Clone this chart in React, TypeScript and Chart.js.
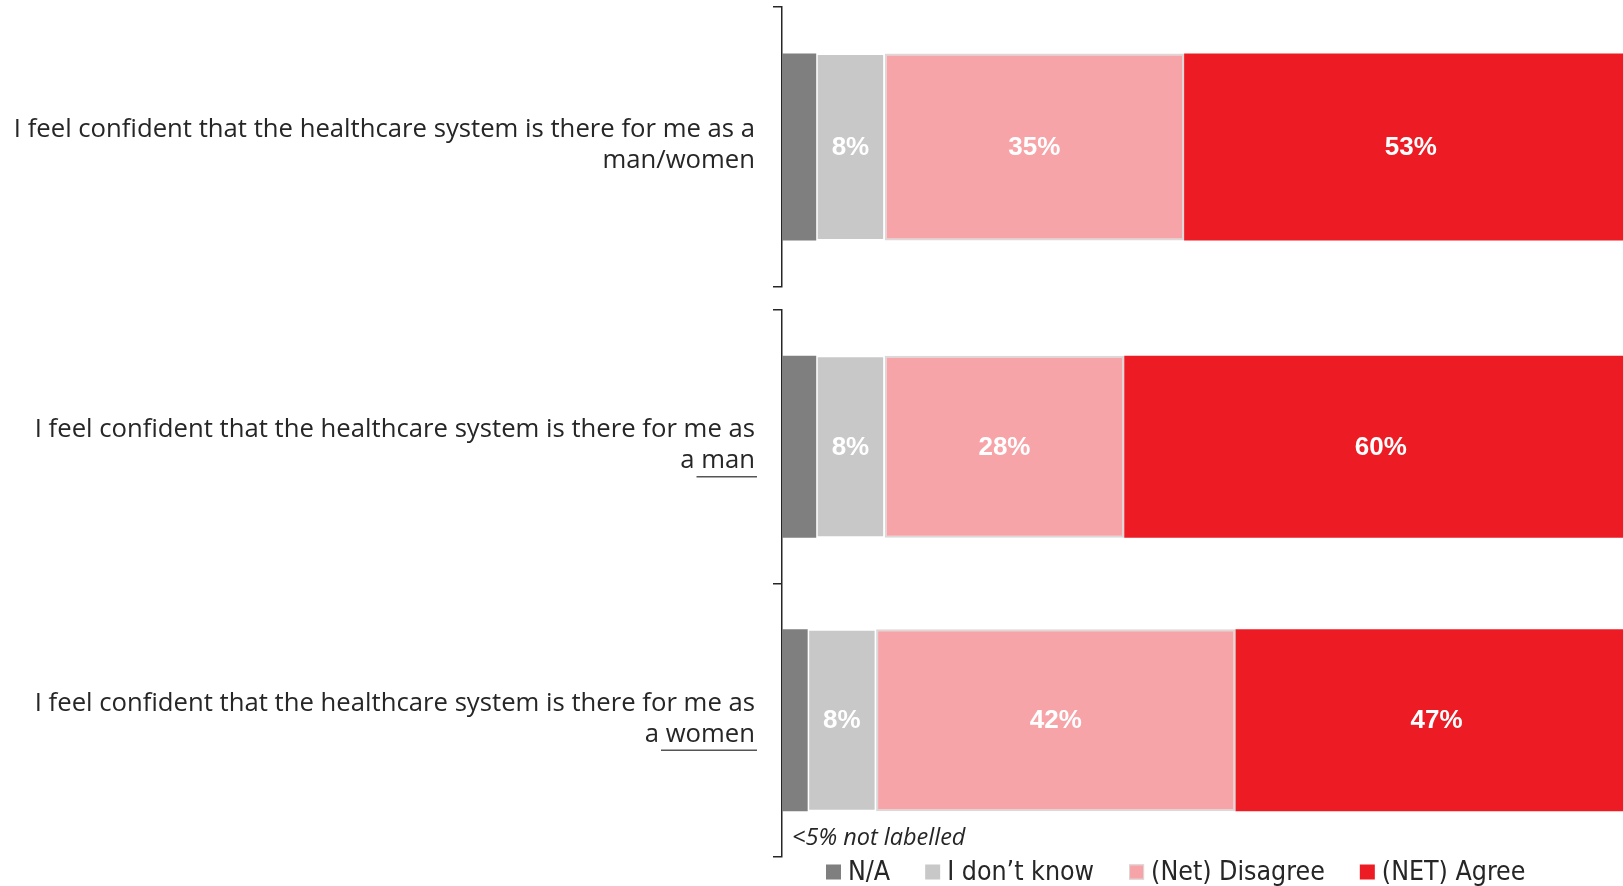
import React, { useEffect, useRef } from "react";
import { Chart, registerables } from "chart.js";
Chart.register(...registerables);

// ---------- data ----------
const categoryKeys = ["man/women", "man", "women"];
const categoryLine1 = [
  "I feel confident that the healthcare system is there for me as a",
  "I feel confident that the healthcare system is there for me as",
  "I feel confident that the healthcare system is there for me as",
];
const categoryLine2 = ["man/women", "a man", "a women"];
const underlinedPart = ["", " man", " women"];

const seriesNames = ["N/A", "I don’t know", "(Net) Disagree", "(NET) Agree"];
const naValues = [4, 4, 3];
const dontKnowValues = [8, 8, 8];
const disagreeValues = [35, 28, 42];
const agreeValues = [53, 60, 47];
const seriesValues = [naValues, dontKnowValues, disagreeValues, agreeValues];

const labelThreshold = 5;
const footnoteText = "<5% not labelled";

// ---------- styles ----------
const seriesColors = ["#7F7F7F", "#C8C8C8", "#F7A4A8", "#ED1C24"];
const seriesBorderColors = ["#7F7F7F", "#FFFFFF", "#D9D9D9", "#ED1C24"];
const seriesBorderWidths = [0, 1.5, 2, 0];
const TEXT = "#262626";
const AXIS_X = 782;
const LABEL_RIGHT = 755;
const X_MAX = 98.3;

const valueLabelPlugin = {
  id: "valueLabels",
  afterDatasetsDraw(chart: any) {
    const ctx = chart.ctx;
    const xs = chart.scales.x;
    ctx.save();
    ctx.font = "bold 26px 'Liberation Sans', Arial, sans-serif";
    ctx.fillStyle = "#FFFFFF";
    ctx.textAlign = "center";
    ctx.textBaseline = "middle";
    chart.data.datasets.forEach((ds: any, s: number) => {
      const meta = chart.getDatasetMeta(s);
      ds.data.forEach((v: number, j: number) => {
        if (v < labelThreshold) return;
        let start = 0;
        for (let k = 0; k < s; k++) start += chart.data.datasets[k].data[j];
        const x = xs.getPixelForValue(start + v / 2);
        const y = meta.data[j].y;
        ctx.fillText(`${v}%`, x, y + 1);
      });
    });
    ctx.restore();
  },
};

const categoryLabelPlugin = {
  id: "categoryLabels",
  afterDraw(chart: any) {
    const ctx = chart.ctx;
    const ys = chart.scales.y;
    const idxs: number[] = chart.options.plugins.categoryLabels.indices;
    ctx.save();
    ctx.font = "25.7px 'Open Sans', sans-serif";
    ctx.fillStyle = TEXT;
    ctx.textAlign = "right";
    ctx.textBaseline = "middle";
    idxs.forEach((ci, j) => {
      const y = ys.getPixelForValue(j);
      ctx.fillText(categoryLine1[ci], LABEL_RIGHT, y - 17);
      ctx.fillText(categoryLine2[ci], LABEL_RIGHT, y + 14);
      const u = underlinedPart[ci];
      if (u) {
        const w = ctx.measureText(u).width;
        ctx.strokeStyle = "#555555";
        ctx.lineWidth = 1.5;
        ctx.beginPath();
        ctx.moveTo(LABEL_RIGHT - w + 2, y + 30);
        ctx.lineTo(LABEL_RIGHT + 2, y + 30);
        ctx.stroke();
      }
    });
    ctx.restore();
  },
};

const legendPlugin = {
  id: "customLegend",
  afterDraw(chart: any) {
    if (!chart.options.plugins.customLegend.show) return;
    const ctx = chart.ctx;
    ctx.save();
    // footnote
    ctx.font = "italic 23.5px 'Open Sans', sans-serif";
    ctx.fillStyle = TEXT;
    ctx.textAlign = "left";
    ctx.textBaseline = "middle";
    ctx.fillText(footnoteText, 792, 838 - 298);
    // legend
    ctx.font = "26.5px 'Liberation Sans Narrow', 'DejaVu Sans Condensed', sans-serif";
    let x = 826;
    const y = 872 - 298;
    chart.data.datasets.forEach((ds: any, s: number) => {
      ctx.fillStyle = seriesColors[s];
      ctx.fillRect(x, y - 7.5, 15, 15);
      if (s === 2) {
        ctx.strokeStyle = "#D9D9D9";
        ctx.lineWidth = 1;
        ctx.strokeRect(x + 0.5, y - 7, 14, 14);
      }
      ctx.fillStyle = TEXT;
      ctx.fillText(ds.label, x + 22, y + 1);
      const w = ctx.measureText(ds.label).width;
      x += 22 + w + 35;
    });
    ctx.restore();
  },
};

function makeConfig(indices: number[], padTop: number, padBottom: number, barPct: number, showLegend: boolean): any {
  return {
    type: "bar",
    data: {
      labels: indices.map((i) => categoryKeys[i]),
      datasets: seriesNames.map((name, s) => ({
        label: name,
        data: indices.map((i) => seriesValues[s][i]),
        backgroundColor: seriesColors[s],
        borderColor: seriesBorderColors[s],
        borderWidth: seriesBorderWidths[s],
        borderSkipped: false,
        barPercentage: barPct,
        categoryPercentage: 1,
      })),
    },
    options: {
      indexAxis: "y",
      responsive: false,
      animation: false,
      layout: { padding: { top: padTop, bottom: padBottom, left: 0, right: 0 } },
      scales: {
        x: { stacked: true, display: false, min: 0, max: X_MAX },
        y: {
          stacked: true,
          ticks: { display: false },
          grid: {
            offset: true,
            drawOnChartArea: false,
            drawTicks: true,
            tickLength: 9,
            color: TEXT,
            lineWidth: 1.5,
          },
          border: { display: true, color: TEXT, width: 1.5 },
          afterFit: (scale: any) => {
            scale.width = AXIS_X;
          },
        },
      },
      plugins: {
        legend: { display: false },
        tooltip: { enabled: false },
        categoryLabels: { indices },
        customLegend: { show: showLegend },
      },
    },
    plugins: [valueLabelPlugin, categoryLabelPlugin, legendPlugin],
  };
}

export default function App() {
  const refA = useRef<HTMLCanvasElement>(null);
  const refB = useRef<HTMLCanvasElement>(null);
  useEffect(() => {
    const a = new Chart(refA.current!, makeConfig([0], 7, 11, 0.668, false));
    const b = new Chart(refB.current!, makeConfig([1, 2], 12, 29, 0.665, true));
    return () => {
      a.destroy();
      b.destroy();
    };
  }, []);
  return (
    <div style={{ position: "absolute", left: 0, top: 0, width: 1623, height: 886, background: "#fff", overflow: "hidden" }}>
      <canvas ref={refA} width={1623} height={298} style={{ position: "absolute", left: 0, top: 0, display: "block" }} />
      <canvas ref={refB} width={1623} height={588} style={{ position: "absolute", left: 0, top: 298, display: "block" }} />
    </div>
  );
}
